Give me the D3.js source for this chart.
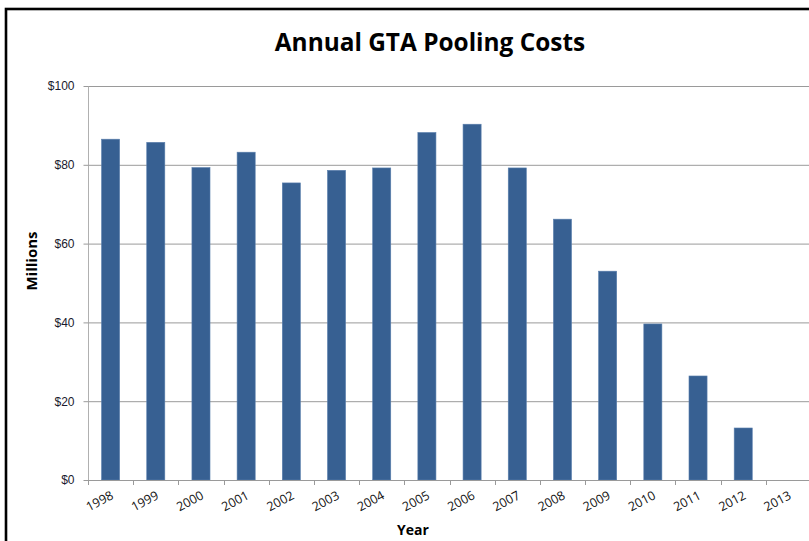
<!DOCTYPE html>
<html>
<head>
<meta charset="utf-8">
<script src="https://cdn.jsdelivr.net/npm/d3@7"></script>
<style>
  body { margin: 0; background: #fff; }
  svg { display: block; font-family: "Open Sans", "DejaVu Sans", sans-serif; }
</style>
</head>
<body>
<script>
var width = 809,
    height = 541;

// chart data
var years = ["1998", "1999", "2000", "2001", "2002", "2003", "2004", "2005",
             "2006", "2007", "2008", "2009", "2010", "2011", "2012", "2013"];
var costs = [86.5, 85.7, 79.3, 83.2, 75.4, 78.6, 79.2, 88.2,
             90.3, 79.2, 66.2, 53.0, 39.6, 26.4, 13.2, 0];
var yTicks = [0, 20, 40, 60, 80, 100];

var margin = {left: 88, right: -2, top: 86, bottom: 61};

var svg = d3.select("body")
    .append("svg")
    .attr("width", width)
    .attr("height", height);

// outer frame of the chart
svg.append("rect")
    .attr("x", 6)
    .attr("y", 9)
    .attr("width", width + 20)
    .attr("height", height + 20)
    .attr("fill", "none")
    .attr("stroke", "#000")
    .attr("stroke-width", 2.6);

var x = d3.scaleBand()
    .domain(years)
    .range([margin.left, width - margin.right])
    .paddingInner(0.6)
    .paddingOuter(0.3);

var y = d3.scaleLinear()
    .domain([0, 100])
    .range([height - margin.bottom, margin.top]);

// gridlines
svg.append("g")
    .selectAll("line")
    .data(yTicks.slice(1))
    .enter().append("line")
    .attr("x1", margin.left)
    .attr("x2", width)
    .attr("y1", d => y(d) + 0.5)
    .attr("y2", d => y(d) + 0.5)
    .attr("stroke", "#9a9a9a")
    .attr("stroke-width", 1);

// y axis
var yAxis = svg.append("g")
    .attr("transform", "translate(" + (margin.left + 0.5) + ",0)")
    .call(d3.axisLeft(y).tickValues(yTicks).tickSize(5).tickPadding(9)
        .tickFormat(d => "$" + d));
yAxis.select(".domain").attr("stroke", "#b0b0b0").attr("d",
    "M0," + y(100) + "V" + y(0));
yAxis.selectAll(".tick line").attr("stroke", "#9a9a9a");
yAxis.selectAll("text")
    .attr("fill", "#1a1a2e")
    .style("font-size", "12px");

// bars
svg.append("g")
    .selectAll("rect")
    .data(costs)
    .enter().append("rect")
    .attr("x", (d, i) => x(years[i]))
    .attr("y", d => y(d))
    .attr("width", x.bandwidth())
    .attr("height", d => y(0) - y(d))
    .attr("fill", "#376092")
    .attr("stroke", "#5a7fad")
    .attr("stroke-width", 0.6);

// x axis: ticks between categories
var step = x.step();
var bounds = d3.range(years.length + 1).map(i => margin.left + i * step);
var xAxis = svg.append("g");
xAxis.append("line")
    .attr("x1", margin.left)
    .attr("x2", width)
    .attr("y1", y(0) + 0.5)
    .attr("y2", y(0) + 0.5)
    .attr("stroke", "#9a9a9a");
xAxis.selectAll(".tk")
    .data(bounds)
    .enter().append("line")
    .attr("class", "tk")
    .attr("x1", d => Math.round(d) + 0.5)
    .attr("x2", d => Math.round(d) + 0.5)
    .attr("y1", y(0))
    .attr("y2", y(0) + 5)
    .attr("stroke", "#9a9a9a");
xAxis.selectAll("text")
    .data(years)
    .enter().append("text")
    .attr("transform", d => "translate(" + (x(d) + x.bandwidth() / 2 - 11) + "," + (y(0) + 21) + ") rotate(-28)")
    .attr("text-anchor", "middle")
    .attr("dy", "0.35em")
    .attr("fill", "#111")
    .style("font-size", "12.5px")
    .text(d => d);

// title and axis titles
svg.append("text")
    .attr("x", 430)
    .attr("y", 51)
    .attr("text-anchor", "middle")
    .style("font-size", "24.4px")
    .style("font-weight", "bold")
    .attr("fill", "#000")
    .text("Annual GTA Pooling Costs");

svg.append("text")
    .attr("transform", "translate(37,261) rotate(-90)")
    .attr("text-anchor", "middle")
    .style("font-size", "15px")
    .style("font-weight", "bold")
    .text("Millions");

svg.append("text")
    .attr("x", 413)
    .attr("y", 535)
    .attr("text-anchor", "middle")
    .style("font-size", "14px")
    .style("font-weight", "bold")
    .text("Year");
</script>
</body>
</html>
